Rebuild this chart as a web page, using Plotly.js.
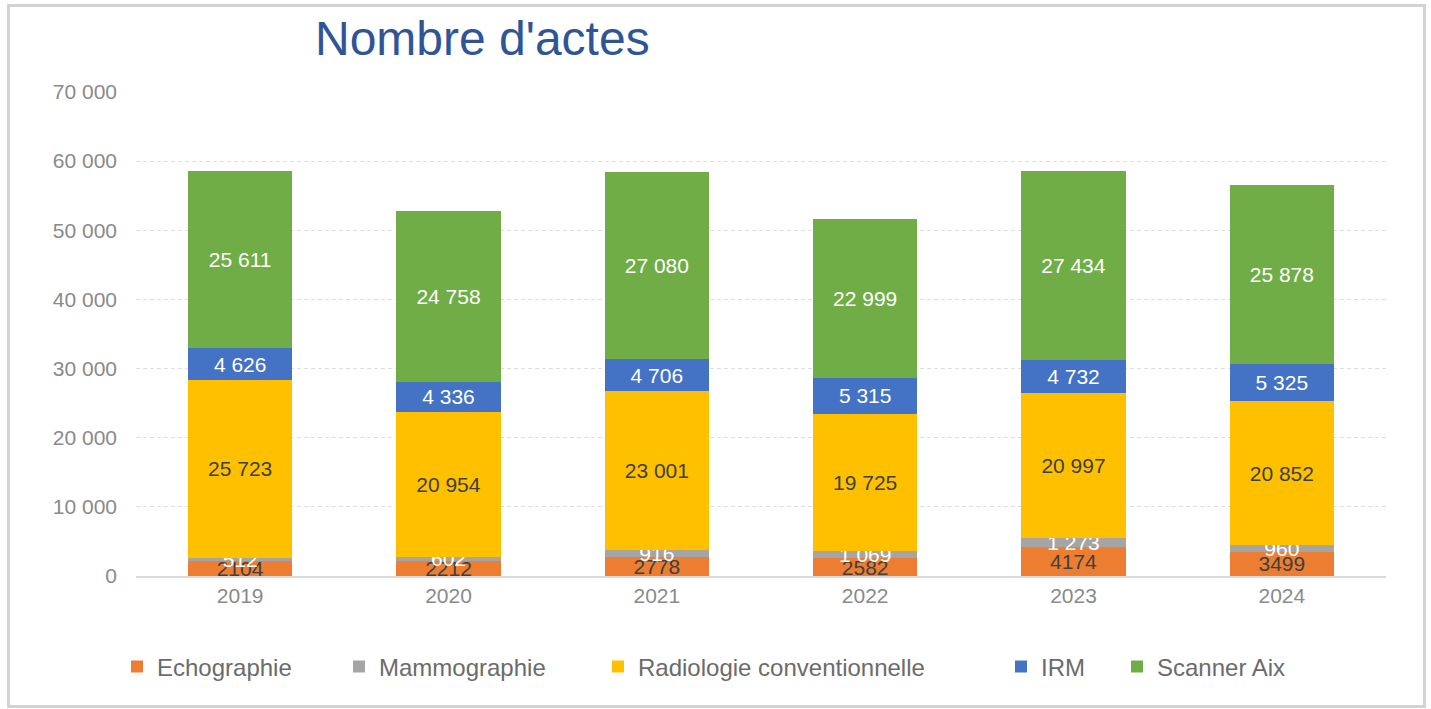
<!DOCTYPE html>
<html>
<head>
<meta charset="utf-8">
<script src="https://cdn.plot.ly/plotly-3.0.1.min.js"></script>
<style>
  html, body { margin: 0; padding: 0; background: #ffffff; }
  #wrap { position: relative; width: 1431px; height: 709px; }
  #chart { width: 1431px; height: 709px; }
  #frame { position: absolute; left: 7px; top: 4px; width: 1413px; height: 698px;
           border: 3px solid #d3d3d3; pointer-events: none; }
</style>
</head>
<body>
<div id="wrap">
  <div id="chart"></div>
  <div id="frame"></div>
</div>
<script>
// ---- data ----
const years = ["2019", "2020", "2021", "2022", "2023", "2024"];
const echographie = [2104, 2212, 2778, 2582, 4174, 3499];
const mammographie = [512, 602, 916, 1069, 1273, 960];
const radiologie = [25723, 20954, 23001, 19725, 20997, 20852];
const irm = [4626, 4336, 4706, 5315, 4732, 5325];
const scanner = [25611, 24758, 27080, 22999, 27434, 25878];
const seriesNames = ["Echographie", "Mammographie", "Radiologie conventionnelle", "IRM", "Scanner Aix"];
const yTickVals = [0, 10000, 20000, 30000, 40000, 50000, 60000, 70000];

// ---- formatting ----
function spaced(v) {
  return String(v).replace(/\B(?=(\d{3})+(?!\d))/g, " ");
}
function plain(v) { return String(v); }

const FONT = "Liberation Sans, Arial, sans-serif";
const colors = ["#ED7D31", "#A5A5A5", "#FFC000", "#4472C4", "#70AD47"];
const labelColors = ["#404040", "#ffffff", "#404040", "#ffffff", "#ffffff"];
const values = [echographie, mammographie, radiologie, irm, scanner];
const fmts = [plain, spaced, spaced, spaced, spaced];
const legendIds = ["legend", "legend2", "legend3", "legend4", "legend5"];
const legendTextStart = [157, 379, 638, 1041, 1157];

const traces = seriesNames.map((name, i) => ({
  type: "bar",
  name: name,
  x: years,
  y: values[i],
  text: values[i].map(fmts[i]),
  textposition: "inside",
  insidetextanchor: "middle",
  textangle: 0,
  constraintext: "none",
  cliponaxis: false,
  textfont: { family: FONT, size: 21, color: labelColors[i] },
  marker: { color: colors[i], line: { width: 0 } },
  hoverinfo: "x+y+name",
  legend: legendIds[i]
}));

const layout = {
  width: 1431,
  height: 709,
  paper_bgcolor: "#ffffff",
  plot_bgcolor: "#ffffff",
  barmode: "stack",
  bargap: 0.5,
  margin: { l: 136, r: 45, t: 92, b: 133 },
  font: { family: FONT, color: "#808080" },
  title: {
    text: "Nombre d'actes",
    xref: "container", yref: "container",
    x: 315 / 1431, xanchor: "left",
    y: 1 - 38 / 709, yanchor: "middle",
    font: { family: FONT, size: 48, color: "#2F5597" }
  },
  xaxis: {
    type: "category",
    showgrid: false,
    showline: true,
    linecolor: "#d9d9d9",
    linewidth: 2,
    ticks: "",
    tickfont: { family: FONT, size: 21, color: "#8a8a8a" },
    zeroline: false
  },
  yaxis: {
    range: [0, 70000],
    tickvals: yTickVals,
    ticktext: yTickVals.map(spaced),
    showgrid: true,
    gridcolor: "#dedede",
    gridwidth: 1,
    griddash: "4px,3px",
    zeroline: false,
    showline: false,
    ticks: "",
    ticklabelstandoff: 18,
    tickfont: { family: FONT, size: 21, color: "#8a8a8a" }
  },
  showlegend: true
};

legendIds.forEach((id, i) => {
  layout[id] = {
    orientation: "h",
    xref: "container", yref: "container",
    x: (legendTextStart[i] - 40) / 1431, xanchor: "left",
    y: 1 - 667 / 709, yanchor: "middle",
    bgcolor: "rgba(0,0,0,0)",
    borderwidth: 0,
    font: { family: FONT, size: 24, color: "#6b6b6b" }
  };
});

Plotly.newPlot("chart", traces, layout, { displayModeBar: false, staticPlot: true });
</script>
</body>
</html>
